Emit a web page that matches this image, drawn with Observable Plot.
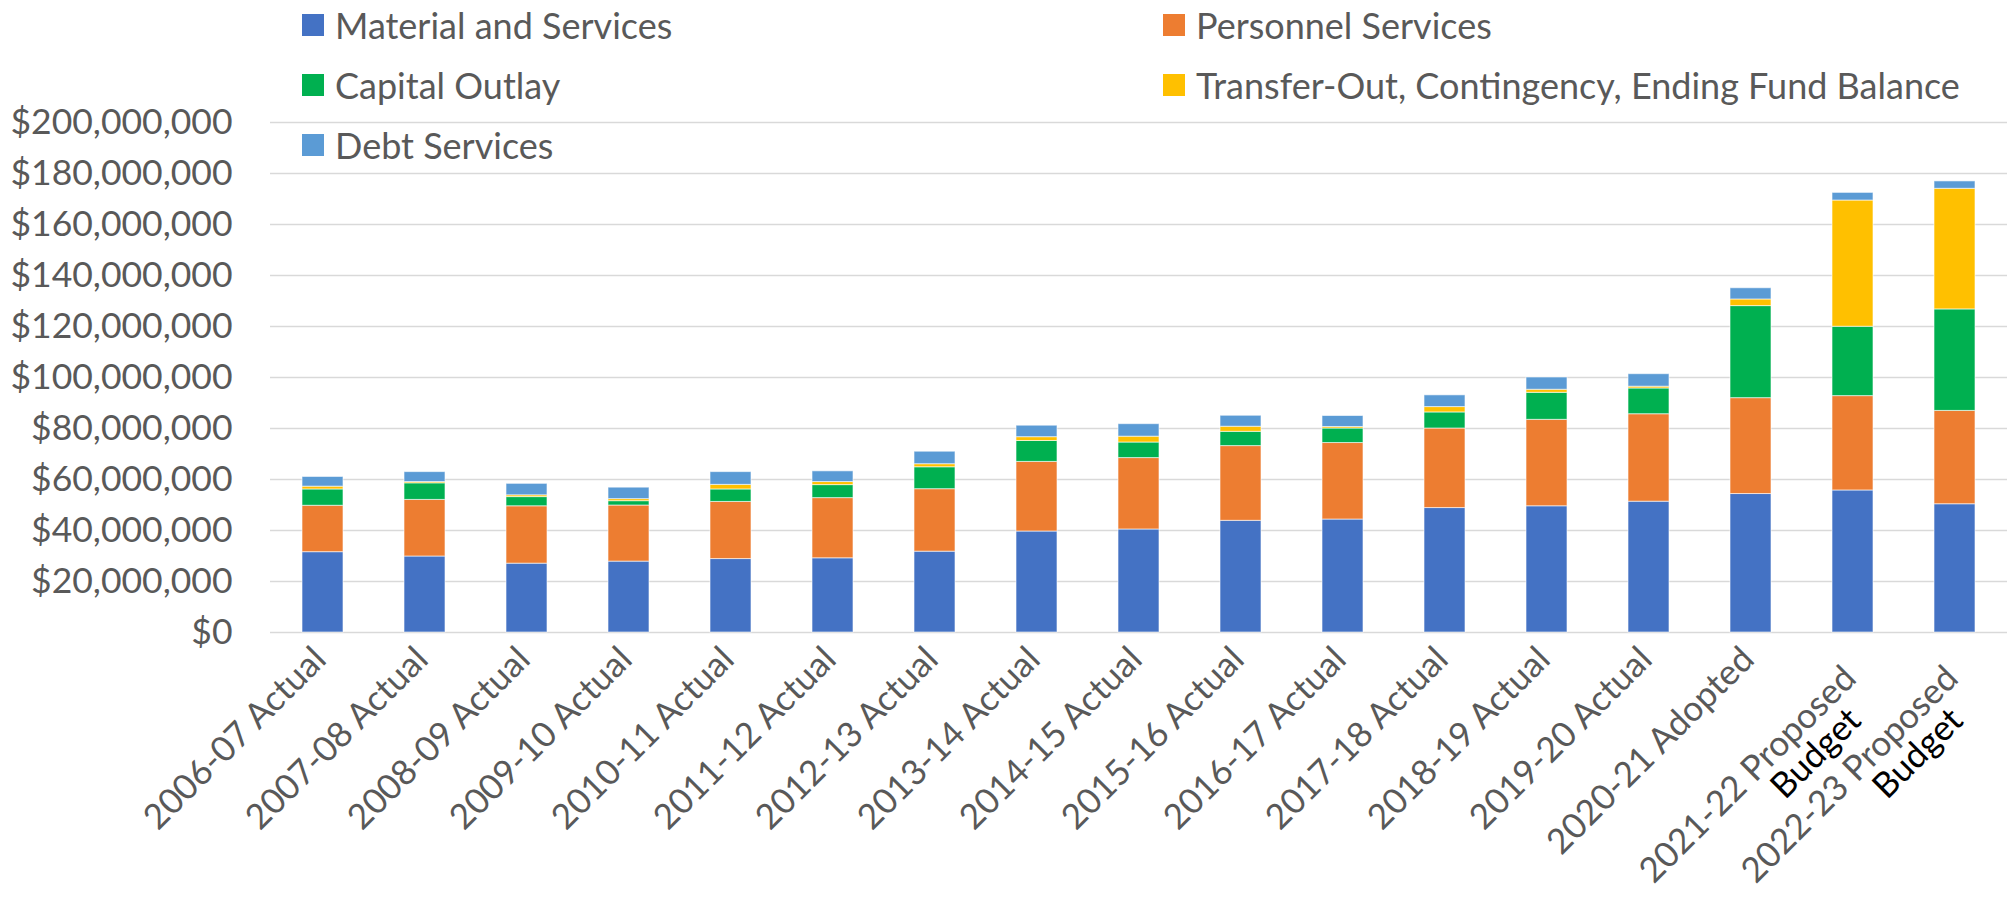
<!DOCTYPE html>
<html>
<head>
<meta charset="utf-8">
<script src="https://cdn.jsdelivr.net/npm/d3@7"></script>
<script src="https://cdn.jsdelivr.net/npm/@observablehq/plot@0.6"></script>
<style>
  html, body { margin: 0; padding: 0; background: #fff; }
  #wrap { position: relative; width: 2011px; height: 902px; font-family: Lato, "Open Sans", sans-serif; }
  #legend {
    position: absolute; left: 302px; top: 14px;
    display: grid; grid-template-columns: 861px auto; row-gap: 38px;
    z-index: 2;
  }
  .item { display: flex; align-items: center; height: 22px; white-space: nowrap; }
  .sw { width: 22px; height: 22px; margin-right: 11px; flex: none; }
  .lab { font-size: 36px; color: #595959; line-height: 22px; }
</style>
</head>
<body>
<div id="wrap"><div id="legend"></div></div>
<script>
const categories = [
  "2006-07 Actual", "2007-08 Actual", "2008-09 Actual", "2009-10 Actual",
  "2010-11 Actual", "2011-12 Actual", "2012-13 Actual", "2013-14 Actual",
  "2014-15 Actual", "2015-16 Actual", "2016-17 Actual", "2017-18 Actual",
  "2018-19 Actual", "2019-20 Actual", "2020-21 Adopted",
  "2021-22 Proposed Budget", "2022-23 Proposed Budget"
];
const seriesNames = [
  "Material and Services", "Personnel Services", "Capital Outlay",
  "Transfer-Out, Contingency, Ending Fund Balance", "Debt Services"
];
const seriesColors = ["#4472C4", "#ED7D31", "#00B050", "#FFC000", "#5B9BD5"];
// values in millions of dollars
const materialServices = [31.5, 29.8, 27.0, 27.8, 28.8, 29.1, 31.7, 39.6, 40.4, 43.8, 44.3, 48.8, 49.5, 51.3, 54.3, 55.7, 50.3];
const personnelServices = [18.2, 22.2, 22.5, 22.0, 22.4, 23.6, 24.5, 27.3, 28.0, 29.3, 30.0, 31.2, 33.9, 34.3, 37.6, 37.0, 36.6];
const capitalOutlay = [6.4, 6.5, 3.6, 1.7, 4.9, 5.1, 8.6, 8.2, 6.1, 5.6, 5.7, 6.3, 10.6, 10.1, 36.1, 27.2, 39.8];
const transferOut = [1.1, 0.5, 0.7, 0.8, 1.8, 1.2, 1.2, 1.5, 2.3, 2.0, 0.6, 2.1, 1.2, 0.7, 2.6, 49.5, 47.3];
const debtServices = [3.8, 3.9, 4.5, 4.5, 5.0, 4.2, 4.9, 4.5, 4.9, 4.3, 4.3, 4.6, 4.8, 4.9, 4.4, 3.0, 2.9];
const yTicks = [0, 20e6, 40e6, 60e6, 80e6, 100e6, 120e6, 140e6, 160e6, 180e6, 200e6];

const seriesValues = [materialServices, personnelServices, capitalOutlay, transferOut, debtServices];
const table = [];
seriesNames.forEach((s, j) => categories.forEach((c, i) => table.push({category: c, series: s, value: seriesValues[j][i] * 1e6})));

const twoLine = categories.filter(c => c.endsWith(" Budget"));
const oneLine = categories.filter(c => !c.endsWith(" Budget"));
const firstLine = c => c.replace(/ Budget$/, "");

const textColor = "#595959";
const fs = 35.5;

const chart = Plot.plot({
  width: 2011,
  height: 902,
  marginLeft: 270,
  marginRight: 4,
  marginTop: 122,
  marginBottom: 270,
  style: {fontFamily: "Lato, 'Open Sans', sans-serif", background: "transparent"},
  x: {domain: categories, paddingInner: 0.6, paddingOuter: 0.3, axis: null},
  y: {domain: [0, 200e6], axis: null},
  color: {domain: seriesNames, range: seriesColors},
  marks: [
    Plot.gridY(yTicks, {stroke: "#d9d9d9", strokeOpacity: 1, strokeWidth: 1.5}),
    Plot.axisY(yTicks, {tickSize: 0, tickPadding: 38, fontSize: fs, fill: textColor,
      tickFormat: d => "$" + d3.format(",")(d), label: null}),
    Plot.barY(table, {x: "category", y: "value", fill: "series", order: seriesNames,
      stroke: "white", strokeWidth: 1, strokeOpacity: 0.6}),
    Plot.text(oneLine, {x: d => d, text: d => d, frameAnchor: "bottom", rotate: -45,
      textAnchor: "end", lineAnchor: "bottom", dx: 5, dy: 29, fontSize: 35, fill: textColor}),
    Plot.text(twoLine, {x: d => d, text: firstLine, frameAnchor: "bottom", rotate: -45,
      textAnchor: "end", lineAnchor: "bottom", dx: 5, dy: 48, fontSize: 35, fill: textColor}),
    Plot.text(twoLine, {x: d => d, text: () => "Budget", frameAnchor: "bottom", rotate: -45,
      textAnchor: "end", lineAnchor: "bottom", dx: 10, dy: 90, fontSize: 35, fill: "black"})
  ]
});
document.getElementById("wrap").appendChild(chart);

const legend = document.getElementById("legend");
seriesNames.forEach((s, i) => {
  const item = document.createElement("div");
  item.className = "item";
  item.innerHTML = `<span class="sw" style="background:${seriesColors[i]}"></span><span class="lab"></span>`;
  item.querySelector(".lab").textContent = s;
  legend.appendChild(item);
});
</script>
</body>
</html>
